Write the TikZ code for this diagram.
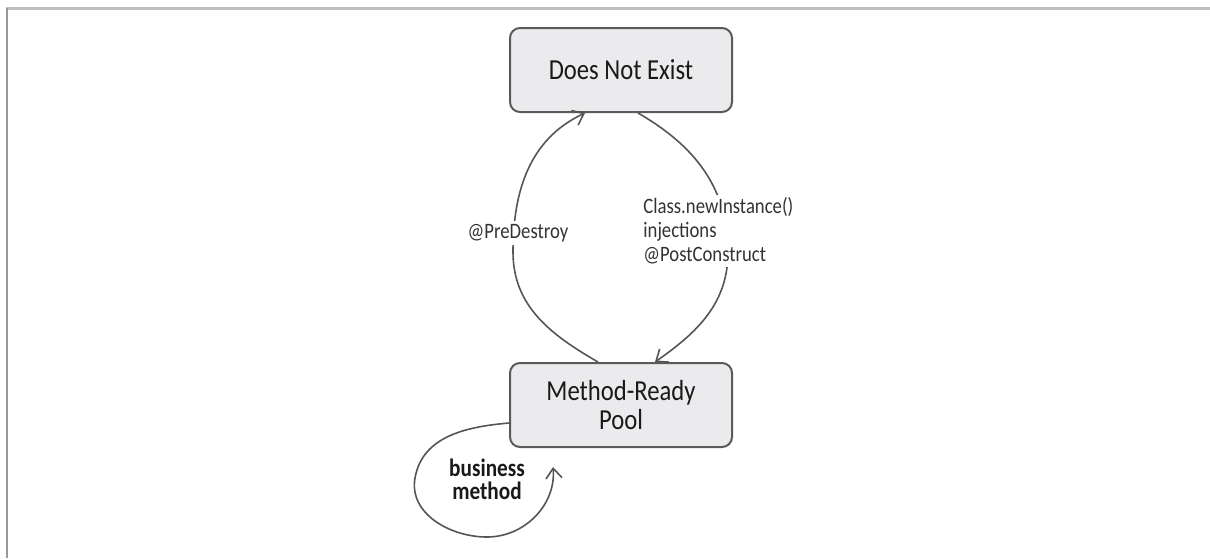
\documentclass[tikz,border=0pt]{standalone}
\usepackage{fontspec}
\setmainfont{Carlito}[FakeStretch=0.85]
\usetikzlibrary{arrows.meta,calc}
\definecolor{boxfill}{HTML}{EBEBED}
\definecolor{boxline}{HTML}{5A5A5A}
\definecolor{wire}{HTML}{555555}
\tikzset{
  state/.style={draw=boxline, line width=1pt, fill=boxfill, rounded corners=5pt,
    minimum width=111pt, minimum height=42pt, align=center,
    font=\fontsize{14.5}{14.5}\selectfont, text=black!90},
  trans/.style={draw=wire, line width=0.8pt, -{Straight Barb[length=5pt,width=8pt]}},
  lbl/.style={fill=white, inner sep=1.5pt, font=\fontsize{11}{12}\selectfont, text=black!80}
}
\begin{document}
\begin{tikzpicture}[x=0.5pt,y=-0.5pt]
  \useasboundingbox (0,0) rectangle (1210,558);
  % page frame
  \draw[black!25, line width=1.5pt] (6,8) -- (1210,8);
  \draw[black!40, line width=1pt] (7,8) -- (7,558);

  % states
  \node[state] (top) at (621,70) {Does Not Exist};
  \node[state] (pool) at (621,405) {Method-Ready\\Pool};

  % turning points of the two arcs and the self loop
  \coordinate (lmid) at (513,252);
  \coordinate (rmid) at (728,252);
  \coordinate (loopl) at (415,478);
  \coordinate (loopb) at (487,537);
  \coordinate (looptip) at (553,467);

  % creation: Does Not Exist -> Method-Ready Pool
  \draw[trans] ($(top.south)+(17,0)$) to[out=-30,in=90] (rmid)
    to[out=-90,in=35] ($(pool.north)+(34,0)$);
  % removal: Method-Ready Pool -> Does Not Exist
  \draw[trans] ($(pool.north)+(-23,0)$) to[out=150,in=-90] (lmid)
    to[out=90,in=205] ($(top.south)+(-36,0)$);
  % business method self loop
  \draw[trans] ($(pool.west)+(0,18)$) to[out=185,in=80] (loopl)
    to[out=-100,in=180] (loopb) to[out=0,in=-85] (looptip);

  % transition labels
  \node[lbl] (pre) at (518,233) {@PreDestroy};
  \node[lbl, anchor=west, align=left] (post) at (640,231)
    {Class.newInstance()\\injections\\@PostConstruct};
  \node[align=center, font=\bfseries\fontsize{12.5}{11.5}\selectfont, text=black!90]
    (biz) at (487,479) {business\\method};
\end{tikzpicture}
\end{document}
